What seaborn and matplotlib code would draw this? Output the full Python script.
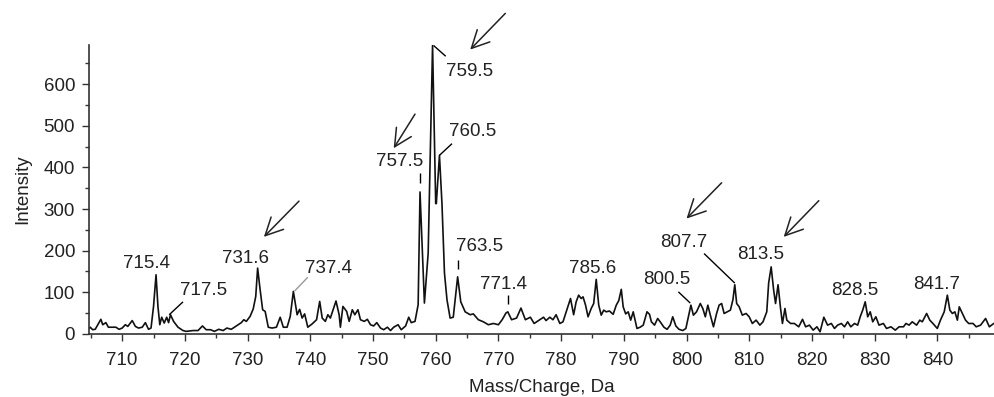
import matplotlib
matplotlib.use("Agg")
import matplotlib.pyplot as plt
import numpy as np
import pandas as pd
import seaborn as sns
from matplotlib.ticker import MultipleLocator

# Spectrum trace (m/z in Da, intensity in counts)
mass = [
    704.6, 704.9, 705.3, 705.7, 706.6, 706.9, 707.4, 707.8, 708.3, 709.0,
    709.5, 710.0, 710.5, 710.9, 711.6, 712.1, 712.6, 713.2, 713.7, 714.2,
    714.6, 715.0, 715.4, 715.7, 716.0, 716.3, 716.7, 717.1, 717.4, 717.7,
    718.2, 718.9, 719.7, 720.2, 721.3, 722.1, 722.8, 723.4, 724.1, 724.7,
    725.4, 726.1, 726.7, 727.4, 727.9, 728.5, 729.0, 729.4, 729.8, 730.4,
    730.9, 731.3, 731.6, 732.0, 732.4, 732.8, 733.3, 733.9, 734.6, 735.2,
    735.7, 736.3, 736.8, 737.3, 737.9, 738.3, 738.7, 739.1, 739.6, 740.3,
    741.0, 741.5, 741.9, 742.4, 742.8, 743.2, 743.6, 744.1, 744.6, 744.8,
    745.2, 745.8, 746.2, 746.7, 747.1, 747.6, 748.0, 748.6, 749.1, 749.6,
    750.1, 750.6, 751.2, 751.7, 752.3, 752.8, 753.3, 754.0, 754.5, 755.2,
    755.7, 756.1, 756.7, 757.2, 757.5, 758.2, 758.8, 759.5, 760.0, 760.1,
    760.6, 761.0, 761.4, 761.8, 762.3, 762.8, 763.5, 764.0, 764.7, 765.5,
    766.0, 766.8, 767.6, 768.4, 769.2, 770.0, 770.6, 771.2, 771.5, 772.1,
    772.9, 773.6, 774.3, 775.1, 775.7, 776.6, 777.2, 777.6, 778.2, 778.7,
    779.2, 779.8, 780.3, 780.9, 781.5, 782.0, 782.4, 782.8, 783.2, 783.5,
    783.9, 784.3, 784.8, 785.2, 785.6, 786.0, 786.4, 786.8, 787.2, 787.7,
    788.3, 788.8, 789.2, 789.6, 789.9, 790.3, 790.7, 791.1, 791.5, 792.1,
    792.6, 793.1, 793.7, 794.1, 794.4, 794.9, 795.4, 795.8, 796.4, 796.9,
    797.4, 797.8, 798.3, 798.8, 799.4, 799.9, 800.3, 800.7, 801.1, 801.6,
    802.2, 802.6, 803.0, 803.4, 803.8, 804.3, 804.8, 805.2, 805.6, 806.0,
    806.5, 807.0, 807.4, 807.7, 808.0, 808.4, 808.9, 809.5, 810.0, 810.5,
    811.1, 811.7, 812.2, 812.8, 813.1, 813.5, 813.9, 814.2, 814.6, 815.0,
    815.3, 815.7, 816.0, 816.6, 817.2, 817.9, 818.5, 819.0, 819.6, 820.2,
    820.8, 821.3, 821.9, 822.5, 823.1, 823.6, 824.1, 824.7, 825.2, 825.7,
    826.2, 826.8, 827.3, 827.7, 828.1, 828.5, 828.9, 829.3, 829.7, 830.2,
    830.7, 831.4, 831.9, 832.6, 833.3, 833.9, 834.6, 835.0, 835.5, 836.0,
    836.7, 837.2, 837.6, 838.3, 838.8, 839.3, 840.0, 840.5, 841.1, 841.6,
    842.0, 842.4, 842.8, 843.2, 843.5, 844.0, 844.5, 845.0, 845.7, 846.2,
    846.9, 847.7, 848.3, 849.0,
]
intensity = [
    11, 16, 10, 11, 35, 22, 27, 16, 16, 16,
    11, 14, 22, 18, 32, 18, 14, 16, 27, 11,
    14, 66, 142, 66, 22, 40, 26, 40, 27, 46,
    30, 16, 8, 6, 8, 8, 19, 10, 10, 6,
    11, 8, 14, 11, 16, 22, 27, 34, 30, 42,
    60, 90, 158, 106, 58, 54, 16, 14, 16, 40,
    16, 16, 42, 102, 46, 59, 38, 48, 16, 24,
    34, 78, 38, 30, 46, 38, 56, 79, 46, 16,
    66, 54, 30, 58, 46, 58, 34, 30, 35, 22,
    19, 27, 14, 10, 16, 8, 16, 22, 10, 19,
    40, 27, 30, 70, 341, 74, 194, 693, 313, 313,
    429, 313, 146, 82, 38, 40, 137, 77, 53, 46,
    48, 34, 29, 22, 25, 22, 34, 50, 53, 34,
    38, 62, 34, 40, 25, 34, 40, 32, 40, 34,
    46, 25, 29, 57, 85, 46, 77, 93, 85, 89,
    69, 41, 61, 73, 131, 69, 45, 57, 53, 55,
    47, 69, 80, 107, 65, 48, 53, 33, 53, 13,
    16, 21, 53, 47, 29, 21, 37, 29, 16, 11,
    21, 41, 19, 11, 8, 13, 41, 69, 45, 53,
    73, 61, 41, 69, 45, 17, 49, 69, 73, 49,
    53, 57, 82, 118, 73, 65, 45, 49, 41, 25,
    33, 21, 29, 53, 122, 161, 105, 73, 118, 61,
    25, 61, 33, 25, 25, 17, 35, 17, 21, 9,
    17, 5, 40, 21, 25, 13, 21, 25, 17, 29,
    17, 25, 21, 41, 57, 77, 41, 53, 29, 41,
    21, 25, 13, 17, 9, 17, 17, 25, 21, 29,
    21, 33, 29, 49, 33, 25, 13, 33, 53, 93,
    57, 49, 53, 33, 65, 49, 33, 25, 25, 17,
    21, 37, 17, 25,
]

x_ticks = [710, 720, 730, 740, 750, 760, 770, 780, 790, 800, 810, 820, 830, 840]
y_ticks = [0, 100, 200, 300, 400, 500, 600]

# peak labels: text, text centre (m/z, intensity), optional leader line
peak_labels = [
    ("715.4", (713.9, 170), None),
    ("717.5", (722.9, 105), ((719.7, 77), (717.5, 46), "black")),
    ("731.6", (729.6, 182), None),
    ("737.4", (742.9, 158), ((739.6, 136), (737.5, 103), "#999999")),
    ("757.5", (754.3, 415), ((757.5, 386), (757.5, 362), "black")),
    ("759.5", (765.4, 630), ((759.65, 693), (761.6, 667), "black")),
    ("760.5", (765.9, 487), ((762.6, 457), (760.6, 429), "black")),
    ("763.5", (767.0, 209), ((763.5, 177), (763.5, 157), "black")),
    ("771.4", (770.8, 118), ((771.6, 94), (771.6, 72), "black")),
    ("785.6", (785.0, 157), None),
    ("800.5", (796.9, 130), ((798.7, 101), (800.6, 74), "black")),
    ("807.7", (799.5, 220), ((802.8, 193), (807.7, 122), "black")),
    ("813.5", (811.8, 190), None),
    ("828.5", (826.8, 105), None),
    ("841.7", (839.9, 119), None),
]

# arrows pointing at the marked peaks: (tail, head)
arrows = [
    ((738.2, 319), (732.6, 233)),
    ((756.7, 528), (753.3, 446)),
    ((771.1, 770), (765.5, 683)),
    ((805.6, 363), (800.0, 277)),
    ((821.1, 320), (815.5, 233)),
]

sns.set_style("ticks")
plt.rcParams["font.family"] = ["Liberation Sans", "DejaVu Sans"]

fig = plt.figure(figsize=(9.95, 3.97), dpi=100)
ax = fig.add_axes([0.0894, 0.159, 0.9106, 0.7276])

spectrum = pd.DataFrame({"mz": mass, "intensity": intensity})
sns.lineplot(data=spectrum, x="mz", y="intensity", ax=ax, color="#111111",
             lw=1.2, estimator=None, sort=False)

for text, (tx, ty), leader in peak_labels:
    ax.text(tx, ty, text, ha="center", va="center", fontsize=13.5, color="#222222")
    if leader is not None:
        (x0, y0), (x1, y1), c = leader
        ax.plot([x0, x1], [y0, y1], color=c, lw=1.0, solid_capstyle="butt")

for tail, head in arrows:
    ax.annotate("", xy=head, xytext=tail, annotation_clip=False,
                arrowprops=dict(arrowstyle="->,head_length=0.9,head_width=0.45",
                                color="#222222", lw=1.1, shrinkA=0, shrinkB=0,
                                mutation_scale=14))

ax.set_xlim(704.7, 849.2)
ax.set_ylim(0, 694)
ax.set_xticks(x_ticks)
ax.set_yticks(y_ticks)
ax.xaxis.set_minor_locator(MultipleLocator(5))
ax.yaxis.set_minor_locator(MultipleLocator(50))
ax.tick_params(axis="both", which="major", labelsize=13.5, length=5, width=1,
               color="#333333", labelcolor="#222222")
ax.tick_params(axis="x", which="major", pad=8)
ax.tick_params(axis="y", which="major", pad=5)
ax.tick_params(axis="both", which="minor", length=3, width=1, color="#333333")

ax.set_xlabel("Mass/Charge, Da", fontsize=13.5, color="#222222", labelpad=7)
ax.set_ylabel("Intensity", fontsize=13.5, color="#222222", labelpad=9)

sns.despine(ax=ax)
for side in ["left", "bottom"]:
    ax.spines[side].set_linewidth(1.2)
    ax.spines[side].set_color("#333333")

fig.savefig("out.png", dpi=100)
